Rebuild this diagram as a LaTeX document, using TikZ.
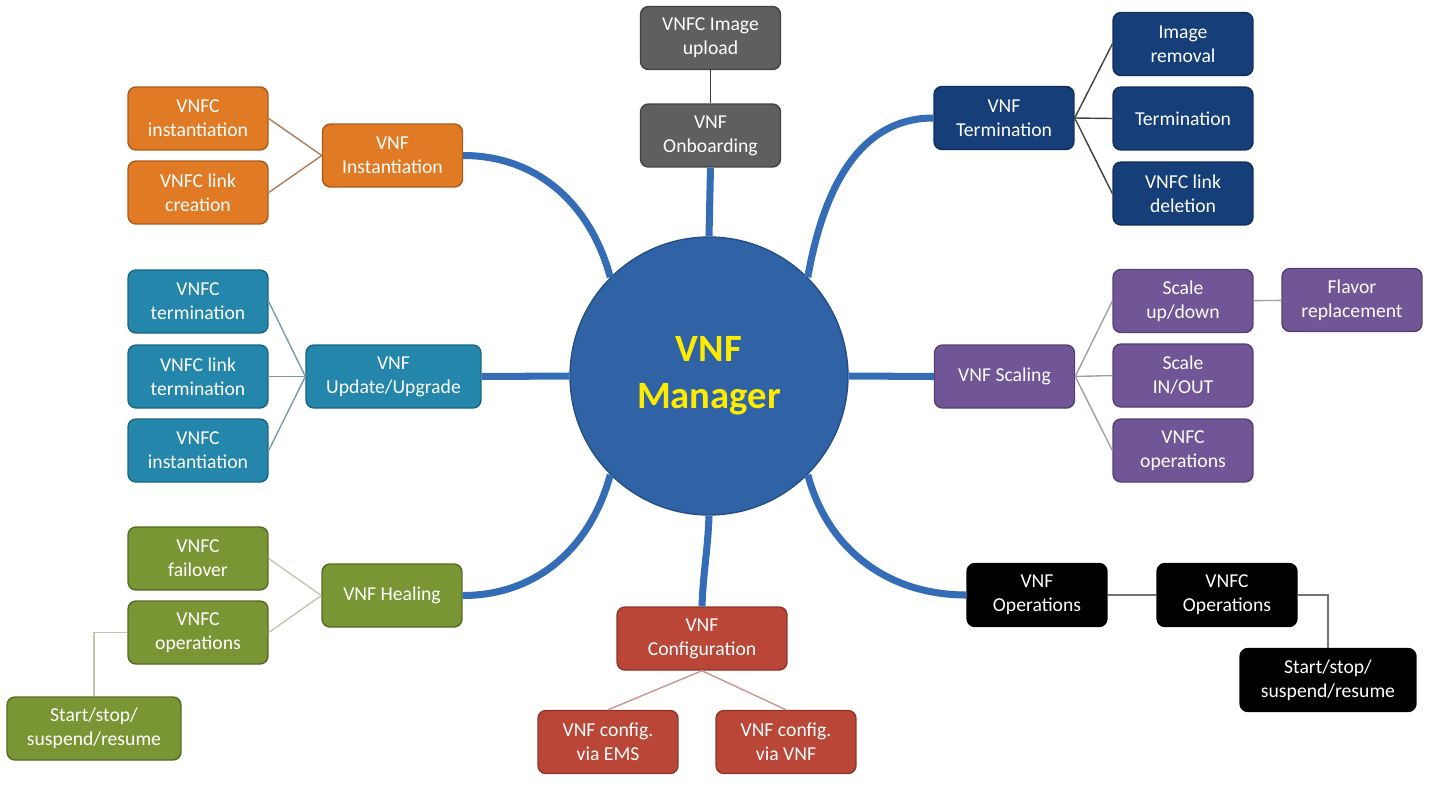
\documentclass[tikz,border=0pt]{standalone}
\usepackage{fontspec}
\setmainfont{Carlito}

\definecolor{mgrblue}{RGB}{47,99,166}
\definecolor{spokeblue}{RGB}{52,108,182}
\definecolor{mgryellow}{RGB}{255,235,0}
\definecolor{orfill}{RGB}{224,122,36}
\definecolor{gyfill}{RGB}{95,95,95}
\definecolor{nvfill}{RGB}{22,62,120}
\definecolor{pufill}{RGB}{112,86,150}
\definecolor{tlfill}{RGB}{35,134,170}
\definecolor{grfill}{RGB}{122,150,52}
\definecolor{rdfill}{RGB}{185,70,55}

\tikzset{
	box/.style={draw, rounded corners=0.16cm, minimum width=2.8cm, minimum height=1.26cm,
		align=center, text=white, line width=0.8pt, inner sep=2pt,
		font=\fontsize{11.2}{13.6}\selectfont},
	orbox/.style={box, fill=orfill, draw=orfill!75!black},
	gybox/.style={box, fill=gyfill, draw=gyfill!70!black},
	nvbox/.style={box, fill=nvfill, draw=nvfill!75!black},
	pubox/.style={box, fill=pufill, draw=pufill!75!black},
	tlbox/.style={box, fill=tlfill, draw=tlfill!75!black},
	grbox/.style={box, fill=grfill, draw=grfill!70!black},
	rdbox/.style={box, fill=rdfill, draw=rdfill!75!black},
	bkbox/.style={box, fill=black, draw=black},
	spoke/.style={draw=spokeblue, line width=4pt},
	twig/.style={line width=0.8pt},
}

\begin{document}
\begin{tikzpicture}[x=0.02cm, y=-0.02cm]
	\useasboundingbox (0, 0) rectangle (1431, 785);

	\node[circle, draw=mgrblue!80!black, fill=mgrblue, line width=0.8pt, minimum size=5.56cm,
		align=center, text=mgryellow, font=\fontsize{22}{26.5}\selectfont\bfseries] (mgr) at (709, 376) {VNF\\Manager};

	\node[orbox] (vnfinst) at (392.5, 155.5) {VNF\\Instantiation};
	\node[orbox] (fcinst) at (198, 118.5) {VNFC\\instantiation};
	\node[orbox] (fclink) at (198, 192.5) {VNFC link\\creation};

	\node[gybox] (onboard) at (710.5, 135.5) {VNF\\Onboarding};
	\node[gybox] (imgup) at (710.5, 38) {VNFC Image\\upload};

	\node[nvbox] (vnfterm) at (1004, 118) {VNF\\Termination};
	\node[nvbox] (imgrem) at (1183, 44) {Image\\removal};
	\node[nvbox] (termn) at (1183, 118.5) {Termination};
	\node[nvbox] (linkdel) at (1183, 193.5) {VNFC link\\deletion};

	\node[pubox] (scaling) at (1004.5, 376.5) {VNF Scaling};
	\node[pubox] (updown) at (1183, 301) {Scale\\up/down};
	\node[pubox] (flavor) at (1352, 300) {Flavor\\replacement};
	\node[pubox] (inout) at (1183, 375.5) {Scale\\IN/OUT};
	\node[pubox] (scops) at (1183, 450.5) {VNFC\\operations};

	\node[tlbox, minimum width=3.5cm] (upgrade) at (393.5, 376.5) {VNF\\Update/Upgrade};
	\node[tlbox] (fcterm) at (198, 301.5) {VNFC\\termination};
	\node[tlbox] (fclterm) at (198, 376.5) {VNFC link\\termination};
	\node[tlbox] (fcreinst) at (198, 450.5) {VNFC\\instantiation};

	\node[grbox] (healing) at (392, 595.5) {VNF Healing};
	\node[grbox] (failover) at (198, 558.5) {VNFC\\failover};
	\node[grbox] (healops) at (198, 632.5) {VNFC\\operations};
	\node[grbox, minimum width=3.48cm] (healss) at (94, 728.5) {Start/stop/\\suspend/resume};

	\node[rdbox, minimum width=3.4cm] (config) at (702, 638.5) {VNF\\Configuration};
	\node[rdbox] (viaems) at (608, 742) {VNF config.\\via EMS};
	\node[rdbox] (viavnf) at (786, 742) {VNF config.\\via VNF};

	\node[bkbox] (vnfops) at (1037, 595) {VNF\\Operations};
	\node[bkbox] (fcops) at (1227, 595) {VNFC\\Operations};
	\node[bkbox, minimum width=3.52cm] (opsss) at (1328, 680) {Start/stop/\\suspend/resume};

	\draw[spoke] (mgr.north) -- (onboard.south);
	\draw[spoke] (mgr.south) to[out=-92, in=88] (config.north);
	\draw[spoke] (mgr.west) -- (upgrade.east);
	\draw[spoke] (mgr.east) -- (scaling.west);
	\draw[spoke] (mgr.135) to[out=105, in=0] (vnfinst.east);
	\draw[spoke] (mgr.45) to[out=80, in=180] (vnfterm.west);
	\draw[spoke] (mgr.225) to[out=-105, in=0] (healing.east);
	\draw[spoke] (mgr.-45) to[out=-75, in=180] (vnfops.west);

	\foreach \c in {fcinst, fclink}
		\draw[twig, draw=orfill!45!gray] (\c.east) -- (vnfinst.west);
	\draw[twig, draw=gyfill!60!black] (imgup) -- (onboard);
	\foreach \c in {imgrem, termn, linkdel}
		\draw[twig, draw=black!75] (vnfterm.east) -- (\c.west);
	\foreach \c in {updown, inout, scops}
		\draw[twig, draw=pufill!35!gray!70] (scaling.east) -- (\c.west);
	\draw[twig, draw=pufill!35!gray!70] (updown) -- (flavor);
	\foreach \c in {fcterm, fclterm, fcreinst}
		\draw[twig, draw=tlfill!40!gray!80] (\c.east) -- (upgrade.west);
	\foreach \c in {failover, healops}
		\draw[twig, draw=grfill!30!white!75!gray] (\c.east) -- (healing.west);
	\draw[twig, draw=grfill!30!white!75!gray] (healss.north) |- (healops.west);
	\foreach \c in {viaems, viavnf}
		\draw[twig, draw=rdfill!55!white!85!gray] (config.south) -- (\c.north);
	\draw[twig, draw=black!55] (vnfops) -- (fcops);
	\draw[twig, draw=black!55] (fcops.east) -| (opsss.north);
\end{tikzpicture}
\end{document}
